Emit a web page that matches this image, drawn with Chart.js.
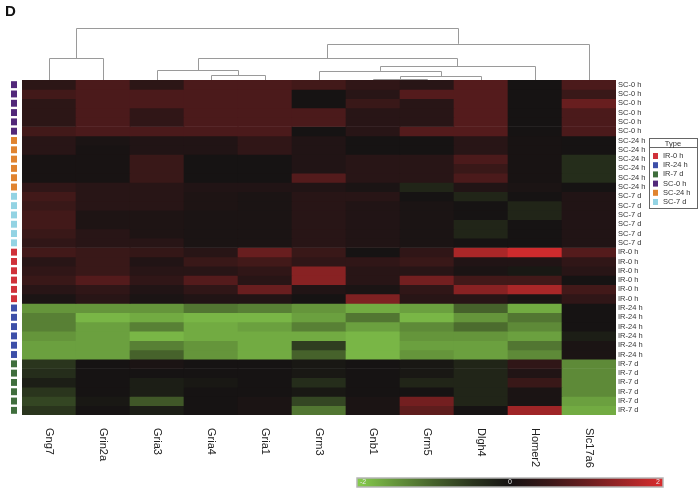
<!DOCTYPE html>
<html>
<head>
<meta charset="utf-8">
<script src="https://cdn.jsdelivr.net/npm/chart.js@4.4.0/dist/chart.umd.min.js"></script>
<style>
  html, body { margin: 0; padding: 0; background: #fff; }
  #wrap { width: 700px; height: 491px; }
</style>
</head>
<body>
<div id="wrap"><canvas id="heatChart" width="700" height="491"></canvas></div>
<script>
// HEATMAP

const genes = ['Gng7', 'Grin2a', 'Gria3', 'Gria4', 'Gria1', 'Grm3', 'Gnb1', 'Grm5', 'Dlgh4', 'Homer2', 'Slc17a6'];

const rowLabels = [
    'SC-0 h', 'SC-0 h', 'SC-0 h', 'SC-0 h', 'SC-0 h', 'SC-0 h',
    'SC-24 h', 'SC-24 h', 'SC-24 h', 'SC-24 h', 'SC-24 h', 'SC-24 h',
    'SC-7 d', 'SC-7 d', 'SC-7 d', 'SC-7 d', 'SC-7 d', 'SC-7 d',
    'IR-0 h', 'IR-0 h', 'IR-0 h', 'IR-0 h', 'IR-0 h', 'IR-0 h',
    'IR-24 h', 'IR-24 h', 'IR-24 h', 'IR-24 h', 'IR-24 h', 'IR-24 h',
    'IR-7 d', 'IR-7 d', 'IR-7 d', 'IR-7 d', 'IR-7 d', 'IR-7 d'
];

const typeNames = ['IR-0 h', 'IR-24 h', 'IR-7 d', 'SC-0 h', 'SC-24 h', 'SC-7 d'];
const typeColors = ['#d0313a', '#3d4fa8', '#3f6e3c', '#52287a', '#e0832f', '#93d3e3'];

// one array per gene, rows top to bottom
const gng7 = [0.35, 0.6, 0.35, 0.35, 0.35, 0.6, 0.3, 0.3, 0.05, 0.05, 0.05, 0.4,
    0.6, 0.5, 0.6, 0.6, 0.5, 0.4, 0.6, 0.3, 0.4, 0.5, 0.3, 0.1,
    -1.5, -1.3, -1.3, -1.5, -1.6, -1.6, -0.5, -0.4, -0.2, -0.5, -0.7, -0.5];
const grin2a = [0.7, 0.7, 0.7, 0.7, 0.7, 0.7, 0.1, 0.05, 0.05, 0.05, 0.05, 0.3,
    0.3, 0.3, 0.15, 0.15, 0.3, 0.3, 0.5, 0.5, 0.5, 0.8, 0.4, 0.3,
    -1.5, -1.8, -1.6, -1.6, -1.6, -1.6, 0, 0, 0, 0, -0.1, 0];
const gria3 = [0.35, 0.7, 0.7, 0.4, 0.4, 0.7, 0.2, 0.2, 0.5, 0.5, 0.5, 0.3,
    0.3, 0.3, 0.15, 0.15, 0.15, 0.3, 0.45, 0.2, 0.3, 0.4, 0.2, 0.1,
    -1.5, -1.7, -1.3, -1.8, -1.3, -1.0, 0.1, 0, -0.2, -0.2, -0.9, -0.2];
const gria4 = [0.7, 0.7, 0.7, 0.7, 0.7, 0.7, 0.2, 0.2, 0, 0, 0, 0.2,
    0.15, 0.15, 0.1, 0.1, 0.1, 0.1, 0.3, 0.5, 0.3, 0.8, 0.4, 0.2,
    -1.2, -1.8, -1.7, -1.7, -1.5, -1.5, 0, 0, -0.1, 0, 0, 0];
const gria1 = [0.7, 0.7, 0.7, 0.7, 0.7, 0.7, 0.4, 0.4, 0, 0, 0, 0.2,
    0.1, 0.1, 0.1, 0.1, 0.1, 0.1, 1.0, 0.6, 0.4, 0.3, 1.0, 0.2,
    -1.3, -1.8, -1.6, -1.7, -1.7, -1.7, 0, 0, 0, 0, 0.1, 0.1];
const grm3 = [0.6, 0, 0, 0.7, 0.7, 0, 0.2, 0.2, 0.2, 0.2, 0.8, 0.2,
    0.3, 0.3, 0.3, 0.3, 0.3, 0.3, 0.5, 0.4, 1.3, 1.3, 0.2, 0,
    -1.5, -1.6, -1.3, -1.7, -0.6, -1.0, -0.1, -0.1, -0.4, -0.1, -0.7, -1.2];
const gnb1 = [0.4, 0.3, 0.5, 0.3, 0.3, 0.3, 0, 0, 0.3, 0.3, 0.3, 0.1,
    0.3, 0.2, 0.2, 0.2, 0.2, 0.2, 0, 0.4, 0.3, 0.3, 0.1, 1.2,
    -1.7, -1.2, -1.6, -1.8, -1.8, -1.8, 0, 0, 0, 0, 0.1, 0.1];
const grm5 = [0.3, 0.8, 0.3, 0.3, 0.3, 0.8, 0, 0, 0.3, 0.3, 0.3, -0.3,
    0, 0.1, 0.1, 0.1, 0.1, 0.1, 0.4, 0.5, 0.3, 1.1, 0.4, 0.3,
    -1.6, -1.8, -1.4, -1.5, -1.6, -1.5, -0.1, -0.1, -0.3, 0, 1.1, 0.9];
const dlgh4 = [0.8, 0.8, 0.8, 0.8, 0.8, 0.8, 0.3, 0.3, 0.7, 0.5, 0.7, 0.2,
    -0.3, 0, 0, -0.3, -0.3, 0, 1.6, 0.2, 0.1, 0.6, 1.3, 0.3,
    -1.0, -1.5, -1.1, -1.5, -1.6, -1.6, -0.3, -0.3, -0.3, -0.3, -0.3, 0];
const homer2 = [0, 0, 0, 0, 0, 0, 0.05, 0.05, 0.05, 0.05, 0.05, 0.1,
    0, -0.3, -0.3, 0, 0, 0, 1.9, 0.2, -0.1, 0.6, 1.6, 0.1,
    -1.7, -1.2, -1.4, -1.6, -1.2, -1.4, 0.4, 0.2, 0.5, 0.1, 0.1, 1.5];
const slc17a6 = [0.7, 0.5, 1.0, 0.7, 0.7, 0.7, 0, 0, -0.4, -0.4, -0.4, 0,
    0.2, 0.2, 0.2, 0.2, 0.2, 0.2, 0.8, 0.4, 0.3, 0, 0.6, 0.4,
    0, 0, 0, -0.2, 0.1, 0.1, -1.4, -1.4, -1.4, -1.4, -1.6, -1.7];

const series = [gng7, grin2a, gria3, gria4, gria1, grm3, gnb1, grm5, dlgh4, homer2, slc17a6];

// column dendrogram: [left, right, height]; numbers are gene indices, 'mN' is merge N
const merges = [
    [6, 7, 0.5],
    ['m0', 8, 3.5],
    [5, 'm1', 9],
    ['m2', 9, 13.5],
    [3, 4, 4.5],
    [2, 'm4', 9.5],
    ['m5', 'm3', 21.5],
    ['m6', 10, 35.5],
    [0, 1, 21.5],
    ['m8', 'm7', 51]
];

const scaleTicks = ['-2', '0', '2'];

function cellColor(v) {
    let t = Math.pow(Math.min(Math.abs(v) / 2, 1), 1.25);
    if (v >= 0) {
        return 'rgb(' + Math.round(22 + 196 * t) + ',' + Math.round(19 + 26 * t) + ',' + Math.round(19 + 28 * t) + ')';
    }
    return 'rgb(' + Math.round(22 + 113 * t) + ',' + Math.round(20 + 185 * t) + ',' + Math.round(19 + 58 * t) + ')';
}

function rowType(label) {
    return typeColors[typeNames.indexOf(label)];
}

const datasets = rowLabels.map((label, i) => ({
    label: label,
    data: genes.map(() => [i, i + 1]),
    backgroundColor: series.map(s => cellColor(s[i])),
    borderWidth: 0,
    barPercentage: 1,
    categoryPercentage: 1,
    grouped: false
}));

const font = '"Liberation Sans", Arial, sans-serif';

const extras = {
    id: 'extras',
    afterDraw(chart) {
        const ctx = chart.ctx;
        const x = chart.scales.x;
        const y = chart.scales.y;
        const area = chart.chartArea;
        ctx.save();

        // panel letter
        ctx.fillStyle = '#111';
        ctx.font = 'bold 15px ' + font;
        ctx.textBaseline = 'top';
        ctx.fillText('D', 5, 4);

        // sample type strip
        rowLabels.forEach((label, i) => {
            const y0 = y.getPixelForValue(i);
            const y1 = y.getPixelForValue(i + 1);
            ctx.fillStyle = rowType(label);
            ctx.fillRect(11, y0 + 1.2, 6, y1 - y0 - 2.4);
        });

        // dendrogram
        const k = (area.top - 28) / 51;
        const pos = [];
        ctx.strokeStyle = '#9a9a9a';
        ctx.lineWidth = 1;
        function node(n) {
            if (typeof n === 'number') {
                return { x: x.getPixelForValue(n), y: area.top };
            }
            return pos[parseInt(n.slice(1))];
        }
        merges.forEach(m => {
            const a = node(m[0]);
            const b = node(m[1]);
            const h = area.top - m[2] * k;
            ctx.beginPath();
            ctx.moveTo(Math.round(a.x) + 0.5, a.y);
            ctx.lineTo(Math.round(a.x) + 0.5, Math.round(h) + 0.5);
            ctx.lineTo(Math.round(b.x) + 0.5, Math.round(h) + 0.5);
            ctx.lineTo(Math.round(b.x) + 0.5, b.y);
            ctx.stroke();
            pos.push({ x: (a.x + b.x) / 2, y: h });
        });

        // gene labels, rotated clockwise
        ctx.fillStyle = '#222';
        ctx.font = '11px ' + font;
        ctx.textAlign = 'left';
        ctx.textBaseline = 'middle';
        genes.forEach((g, j) => {
            ctx.save();
            ctx.translate(x.getPixelForValue(j), area.bottom + 13);
            ctx.rotate(Math.PI / 2);
            ctx.fillText(g, 0, 0);
            ctx.restore();
        });

        // type legend
        ctx.strokeStyle = '#666';
        ctx.lineWidth = 1;
        ctx.strokeRect(649.5, 138.5, 48, 70);
        ctx.beginPath();
        ctx.moveTo(649.5, 147.5);
        ctx.lineTo(697.5, 147.5);
        ctx.stroke();
        ctx.fillStyle = '#333';
        ctx.font = '7.5px ' + font;
        ctx.textAlign = 'center';
        ctx.fillText('Type', 673, 143.5);
        ctx.textAlign = 'left';
        typeNames.forEach((t, i) => {
            const cy = 156 + i * 9.2;
            ctx.fillStyle = typeColors[i];
            ctx.fillRect(653, cy - 3, 5, 6);
            ctx.fillStyle = '#333';
            ctx.fillText(t, 663, cy);
        });

        // colour key
        const gx0 = 357, gx1 = 663, gy = 478, gh = 9;
        const grad = ctx.createLinearGradient(gx0, 0, gx1, 0);
        [-2, -1.5, -1, -0.5, 0, 0.5, 1, 1.5, 2].forEach(v => {
            grad.addColorStop((v + 2) / 4, cellColor(v));
        });
        ctx.fillStyle = grad;
        ctx.fillRect(gx0, gy, gx1 - gx0, gh);
        ctx.strokeStyle = '#b5b5b5';
        ctx.lineWidth = 1.5;
        ctx.strokeRect(gx0, gy, gx1 - gx0, gh);
        ctx.fillStyle = '#e8e8e8';
        ctx.font = '7px ' + font;
        ctx.textBaseline = 'middle';
        ctx.textAlign = 'left';
        ctx.fillText(scaleTicks[0], gx0 + 3, gy + gh / 2);
        ctx.textAlign = 'center';
        ctx.fillText(scaleTicks[1], (gx0 + gx1) / 2, gy + gh / 2);
        ctx.textAlign = 'right';
        ctx.fillText(scaleTicks[2], gx1 - 3, gy + gh / 2);

        ctx.restore();
    }
};

new Chart(document.getElementById('heatChart'), {
    type: 'bar',
    data: {
        labels: genes,
        datasets: datasets
    },
    options: {
        responsive: false,
        animation: false,
        devicePixelRatio: 1,
        layout: {
            padding: { top: 80, left: 22, bottom: 76, right: 0 }
        },
        scales: {
            x: {
                type: 'category',
                display: false
            },
            y: {
                type: 'linear',
                min: 0,
                max: 36,
                reverse: true,
                position: 'right',
                grid: { display: false, drawTicks: false },
                border: { display: false },
                afterBuildTicks: axis => {
                    axis.ticks = rowLabels.map((_, i) => ({ value: i + 0.5 }));
                },
                afterFit: axis => {
                    axis.width = 84;
                },
                ticks: {
                    autoSkip: false,
                    padding: 2,
                    color: '#333',
                    font: { family: font, size: 7.5 },
                    callback: (v, i) => rowLabels[i]
                }
            }
        },
        plugins: {
            legend: { display: false },
            tooltip: { enabled: false }
        }
    },
    plugins: [extras]
});
</script>
</body>
</html>
